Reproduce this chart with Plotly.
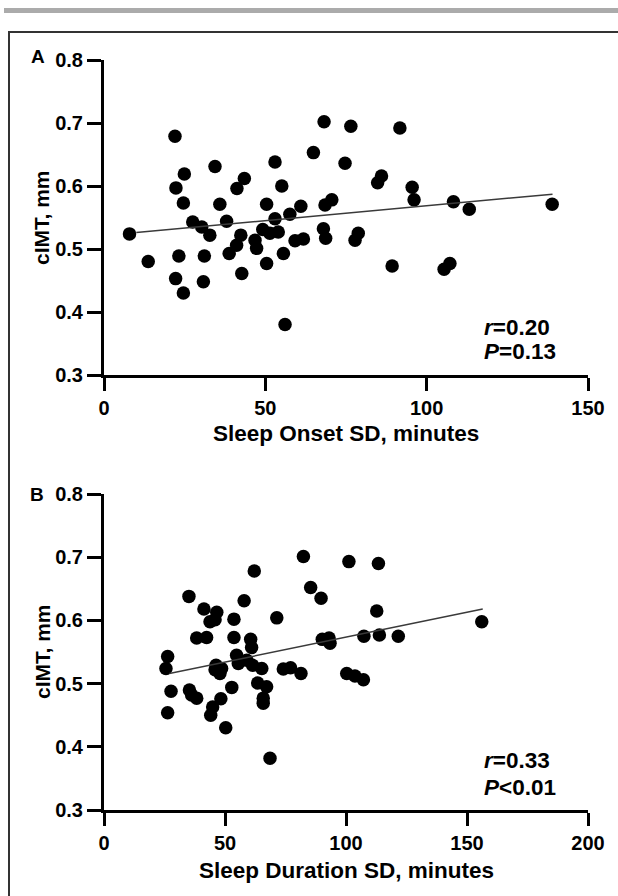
import plotly.graph_objects as go

W, H = 618, 896

# ---------------- Data ----------------
# Panel A: Sleep onset SD (minutes) vs cIMT (mm)
onset_sd = [7.9, 13.7, 22.0, 24.9, 22.3, 24.6, 27.5, 30.3, 32.8, 23.2,
            31.1, 22.2, 30.8, 24.6, 34.4, 35.9, 38.0, 43.5, 41.2, 42.4,
            41.1, 38.8, 42.7, 46.8, 47.3, 50.4, 53.0, 55.1, 53.0, 49.2,
            51.4, 54.0, 50.4, 55.6, 56.1, 57.6, 61.0, 59.2, 61.8, 64.9,
            68.2, 76.5, 74.7, 68.5, 70.6, 68.0, 68.7, 91.7, 86.0, 84.8,
            95.5, 96.1, 108.3, 113.2, 138.9, 78.8, 77.8, 89.3, 107.2, 105.4]
cimt_a = [0.524, 0.480, 0.679, 0.619, 0.597, 0.573, 0.543, 0.535, 0.522, 0.489,
          0.489, 0.453, 0.448, 0.430, 0.631, 0.571, 0.544, 0.612, 0.596, 0.522,
          0.506, 0.493, 0.461, 0.514, 0.501, 0.571, 0.638, 0.600, 0.548, 0.531,
          0.525, 0.527, 0.477, 0.493, 0.380, 0.555, 0.568, 0.513, 0.516, 0.653,
          0.702, 0.695, 0.636, 0.570, 0.578, 0.532, 0.517, 0.692, 0.616, 0.605,
          0.598, 0.578, 0.575, 0.563, 0.571, 0.525, 0.514, 0.473, 0.477, 0.468]
fit_a_x = [10, 139]
fit_a_y = [0.526, 0.587]

# Panel B: Sleep duration SD (minutes) vs cIMT (mm)
duration_sd = [82.4, 101.2, 62.1, 85.4, 89.7, 35.1, 57.9, 41.3, 46.6, 43.8,
               45.9, 53.7, 71.4, 38.3, 42.4, 53.7, 60.6, 61.0, 90.2, 93.4,
               93.0, 26.3, 25.6, 27.7, 26.3, 35.3, 36.2, 38.3, 46.3, 45.9,
               47.9, 48.6, 54.8, 55.5, 59.0, 61.4, 65.2, 52.8, 48.3, 44.9,
               44.1, 50.3, 63.5, 67.2, 65.8, 65.8, 68.6, 74.1, 77.1, 81.4,
               100.3, 103.7, 113.4, 112.7, 107.4, 113.8, 121.6, 156.1, 107.2]
cimt_b = [0.701, 0.693, 0.678, 0.652, 0.635, 0.638, 0.631, 0.618, 0.613, 0.598,
          0.601, 0.602, 0.604, 0.572, 0.573, 0.573, 0.570, 0.557, 0.570, 0.564,
          0.572, 0.543, 0.524, 0.488, 0.454, 0.490, 0.482, 0.477, 0.529, 0.522,
          0.516, 0.524, 0.545, 0.532, 0.537, 0.529, 0.524, 0.494, 0.476, 0.463,
          0.450, 0.430, 0.501, 0.495, 0.477, 0.469, 0.382, 0.523, 0.525, 0.516,
          0.516, 0.512, 0.690, 0.615, 0.575, 0.577, 0.575, 0.598, 0.506]
fit_b_x = [27, 156.5]
fit_b_y = [0.516, 0.618]

x_ticks_a = [0, 50, 100, 150]
x_ticks_b = [0, 50, 100, 150, 200]
y_ticks = [0.3, 0.4, 0.5, 0.6, 0.7, 0.8]

stats_a = ["<i>r</i>=0.20", "<i>P</i>=0.13"]
stats_b = ["<i>r</i>=0.33", "<i>P</i>&lt;0.01"]

# ---------------- Figure ----------------
def px(x):
    return x / W

def py(y):
    return 1 - y / H

FONT = "Liberation Sans, Arial, sans-serif"

fig = go.Figure()

marker = dict(color="black", size=13.5, line=dict(width=0))
line = dict(color="#3a3a3a", width=1.5)

fig.add_trace(go.Scatter(x=onset_sd, y=cimt_a, mode="markers", marker=marker,
                         xaxis="x", yaxis="y", showlegend=False))
fig.add_trace(go.Scatter(x=fit_a_x, y=fit_a_y, mode="lines", line=line,
                         xaxis="x", yaxis="y", showlegend=False))
fig.add_trace(go.Scatter(x=duration_sd, y=cimt_b, mode="markers", marker=marker,
                         xaxis="x2", yaxis="y2", showlegend=False))
fig.add_trace(go.Scatter(x=fit_b_x, y=fit_b_y, mode="lines", line=line,
                         xaxis="x2", yaxis="y2", showlegend=False))

tickfont = dict(family=FONT, size=20, color="black", weight="bold")
common_x = dict(showline=True, linecolor="black", linewidth=3, ticks="outside",
                ticklen=13, tickwidth=3, tickcolor="black", showgrid=False,
                zeroline=False, tickfont=tickfont, automargin=False)
common_y = dict(showline=True, linecolor="black", linewidth=3, ticks="outside",
                ticklen=14, tickwidth=3, tickcolor="black", showgrid=False,
                zeroline=False, tickfont=tickfont, automargin=False,
                tickvals=y_ticks, tickformat=".1f", range=[0.3, 0.8])

xdom = [px(104), px(588)]
fig.update_layout(
    width=W, height=H, template="none",
    margin=dict(l=0, r=0, t=0, b=0),
    paper_bgcolor="white", plot_bgcolor="white",
    font=dict(family=FONT, color="black"),
    xaxis=dict(domain=xdom, range=[0, 150], tickvals=x_ticks_a, anchor="y", **common_x),
    yaxis=dict(domain=[py(375), py(60)], anchor="x", **common_y),
    xaxis2=dict(domain=xdom, range=[0, 200], tickvals=x_ticks_b, anchor="y2", **common_x),
    yaxis2=dict(domain=[py(810), py(494)], anchor="x2", **common_y),
)

title_font = dict(family=FONT, size=22.5, color="black", weight="bold")
ytitle_font = dict(family=FONT, size=21, color="black", weight="bold")
ann = []
# axis titles
ann.append(dict(text="Sleep Onset SD, minutes", x=px(346), y=py(433), font=title_font))
ann.append(dict(text="Sleep Duration SD, minutes", x=px(346), y=py(870), font=title_font))
ann.append(dict(text="cIMT, mm", x=px(42), y=py(218), textangle=-90, font=ytitle_font))
ann.append(dict(text="cIMT, mm", x=px(42), y=py(652), textangle=-90, font=ytitle_font))
# panel letters
ann.append(dict(text="A", x=px(38), y=py(57), font=dict(family=FONT, size=19, color="black", weight="bold")))
ann.append(dict(text="B", x=px(37), y=py(495), font=dict(family=FONT, size=19, color="black", weight="bold")))
# stats
stat_font = dict(family=FONT, size=22.5, color="black", weight="bold")
for txt, yy in zip(stats_a, [327, 352]):
    ann.append(dict(text=txt, x=px(482), y=py(yy), xanchor="left", font=stat_font))
for txt, yy in zip(stats_b, [760, 787]):
    ann.append(dict(text=txt, x=px(482), y=py(yy), xanchor="left", font=stat_font))

for a in ann:
    a.setdefault("xanchor", "center")
    a.update(xref="paper", yref="paper", yanchor="middle", showarrow=False)
fig.update_layout(annotations=ann)

fig.update_layout(shapes=[
    dict(type="rect", xref="paper", yref="paper", x0=px(4), x1=px(630),
         y0=py(13), y1=py(8), fillcolor="#ababab", line=dict(width=0), layer="below"),
    dict(type="rect", xref="paper", yref="paper", x0=px(9), x1=px(640),
         y0=py(910), y1=py(32), fillcolor="rgba(0,0,0,0)",
         line=dict(color="#333333", width=2), layer="below"),
])

fig.write_html("out.html", config={"displayModeBar": False},
               post_script="document.body.style.margin='0';document.body.style.overflow='hidden';")
